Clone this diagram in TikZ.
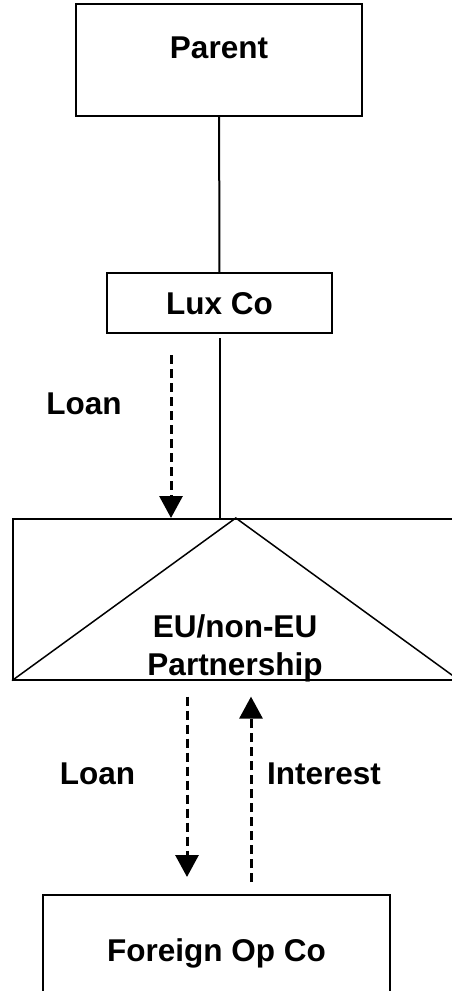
\documentclass[tikz,border=0pt]{standalone}
\usepackage{fontspec}
\setmainfont{Liberation Sans}
\usepackage{tikz}
\usetikzlibrary{arrows.meta, positioning, calc}

\begin{document}
\begin{tikzpicture}[
    x=1pt, y=-1pt,
    every node/.style={font=\fontsize{31.5}{38}\selectfont\bfseries, inner sep=0pt},
    entity/.style={rectangle, draw=black, line width=2pt, fill=white},
    link/.style={draw=black, line width=2pt},
    flow/.style={draw=black, line width=3pt, dash pattern=on 9pt off 5pt, -{Triangle[length=22pt, width=23pt]}}
]
\useasboundingbox (0,0) rectangle (451,991);

% Nodes
\node[entity, minimum width=286pt, text height=54pt, text depth=58pt] (parent) at (219,60) {Parent};
\node[entity, minimum width=225pt, text height=41pt, text depth=19pt] (luxco) at (219.5,303) {Lux Co};
\node[entity, anchor=north west, minimum width=446pt, minimum height=161pt, line width=1.6pt, fill=none] (part) at (12,518) {};
\node[align=center, anchor=base] (parttext) at (235,675) {EU/non-EU\\Partnership};
\node[entity, minimum width=347pt, text height=66pt, text depth=50pt] (foreign) at (216.5,953) {Foreign Op Co};

\node[anchor=base] (loantop) at (84,414) {Loan};
\node[anchor=base] (loanbot) at (97.5,784) {Loan};
\node[anchor=base] (interest) at (324,784) {Interest};

\coordinate (loanTopX) at (171,0);
\coordinate (loanBotX) at (187,0);
\coordinate (intX) at (251,0);

% Edges
\draw[line width=1.5pt] (part.south west) -- (part.north) -- (part.south east);
\draw[link] (parent) -- (luxco);
\draw[link, shorten <=4pt] (luxco.south) -- (part.north -| luxco.south);
\draw[flow, shorten <=21pt] (luxco.south -| loanTopX) -- (part.north -| loanTopX);
\draw[flow, shorten <=16pt, shorten >=17pt] (part.south -| loanBotX) -- (foreign.north -| loanBotX);
\draw[flow, shorten <=12pt, shorten >=16pt] (foreign.north -| intX) -- (part.south -| intX);

\end{tikzpicture}
\end{document}
